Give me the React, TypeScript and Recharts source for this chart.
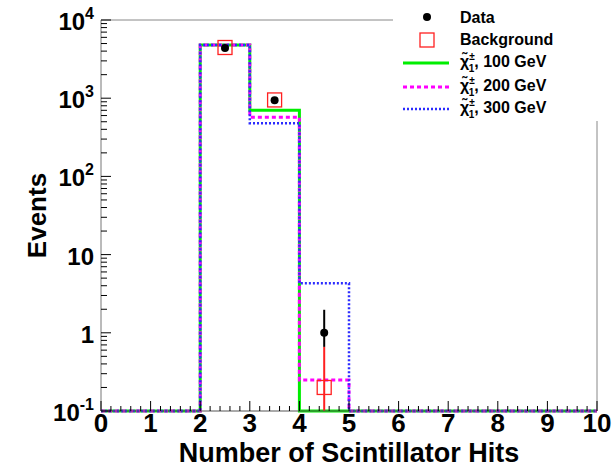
import {
  ComposedChart, Line, Scatter, ErrorBar, XAxis, YAxis, ReferenceLine, Legend, Label,
} from "recharts";

// bin edges of the histogram (Number of Scintillator Hits)
const binEdges = [0, 1, 2, 3, 4, 5, 6, 7, 8, 9, 10];
// signal expectation per bin (empty bins sit on the 0.1 floor)
const sig100 = [0.1, 0.1, 4780, 700, 0.1, 0.1, 0.1, 0.1, 0.1, 0.1];
const sig200 = [0.1, 0.1, 4780, 570, 0.25, 0.1, 0.1, 0.1, 0.1, 0.1];
const sig300 = [0.1, 0.1, 4780, 480, 4.3, 0.1, 0.1, 0.1, 0.1, 0.1];

// observed data and background estimate at bin centres
const pointX = [2.5, 3.5, 4.5];
const dataY = [4400, 940, 1];
const dataErrLo = [66, 31, 0.34];
const dataErrHi = [66, 31, 0.97];
const bkgY = [4450, 950, 0.2];
const bkgErrLo = [40, 20, 0.1];
const bkgErrHi = [40, 20, 0.46];

const xMajorTicks = [0, 1, 2, 3, 4, 5, 6, 7, 8, 9, 10];
const yMajorTicks = [0.1, 1, 10, 100, 1000, 10000];
const yTickLabels = [["10", "-1"], ["1", ""], ["10", ""], ["10", "2"], ["10", "3"], ["10", "4"]];

const legendNames = ["Data", "Background", "100 GeV", "200 GeV", "300 GeV"];

const FONT = "'Liberation Sans', Arial, Helvetica, sans-serif";
const GREEN = "#00ee00";
const MAGENTA = "#ff00ff";
const BLUE = "#2b2bff";
const RED = "#ff2020";

const stepRows = binEdges.map((x, i) => {
  const b = Math.min(i, sig100.length - 1);
  return { x, s100: sig100[b], s200: sig200[b], s300: sig300[b] };
});
const dataPts = pointX.map((x, i) => ({ x, y: dataY[i], err: [dataErrLo[i], dataErrHi[i]] }));
const bkgPts = pointX.map((x, i) => ({ x, y: bkgY[i], err: [bkgErrLo[i], bkgErrHi[i]] }));

const xTicks: number[] = [];
xMajorTicks.forEach((t, i) => {
  xTicks.push(t);
  if (i < xMajorTicks.length - 1) [1, 2, 3, 4].forEach((k) => xTicks.push(Math.round((t + k * 0.2) * 10) / 10));
});
const yTicks: number[] = [];
yMajorTicks.forEach((t, i) => {
  yTicks.push(t);
  if (i < yMajorTicks.length - 1) [2, 3, 4, 5, 6, 7, 8, 9].forEach((m) => yTicks.push(t * m));
});

const XTick = ({ x, y, payload }: any) => {
  const v = payload.value;
  const major = xMajorTicks.includes(v);
  return (
    <g>
      <line x1={x} x2={x} y1={y} y2={y - (major ? 10 : 5)} stroke="#000" />
      {major && (
        <text x={x} y={y + 21} textAnchor="middle" fontSize={26} fontWeight="bold" fontFamily={FONT} fill="#000">
          {v}
        </text>
      )}
    </g>
  );
};

const YTick = ({ x, y, payload }: any) => {
  const v = payload.value;
  const idx = yMajorTicks.findIndex((t) => Math.abs(t - v) / t < 1e-6);
  const major = idx >= 0;
  const lab = major ? yTickLabels[idx] : null;
  return (
    <g>
      <line x1={x} x2={x + (major ? 10 : 6)} y1={y} y2={y} stroke="#000" />
      {lab && (
        <text x={x - 7} y={y + 10} textAnchor="end" fontSize={24} fontWeight="bold" fontFamily={FONT} fill="#000">
          {lab[0]}
          {lab[1] && <tspan dy={-11} fontSize={16}>{lab[1]}</tspan>}
        </text>
      )}
    </g>
  );
};

const DataDot = ({ cx, cy }: any) => <circle cx={cx} cy={cy} r={4} fill="#000" />;
const BkgSquare = ({ cx, cy }: any) => (
  <rect x={cx - 7} y={cy - 7} width={14} height={14} fill="none" stroke={RED} strokeWidth={1.3} />
);

const Chi = ({ x, y, mass }: { x: number; y: number; mass: string }) => (
  <text x={x} y={y} fontSize={16} fontWeight="bold" fontFamily={FONT} fill="#000">
    {"\u03C7\u0303"}
    <tspan dy={-7} fontSize={10}>±</tspan>
    <tspan dx={-6} dy={12} fontSize={10}>1</tspan>
    <tspan dy={-5}>, {mass}</tspan>
  </text>
);

const renderLegend = () => (
  <svg width={220} height={121} style={{ display: "block" }}>
    <rect x={0} y={0} width={220} height={121} fill="#fff" />
    <circle cx={34} cy={17} r={4} fill="#000" />
    <text x={67} y={23} fontSize={16} fontWeight="bold" fontFamily={FONT}>{legendNames[0]}</text>
    <rect x={27} y={33} width={14} height={14} fill="none" stroke={RED} strokeWidth={1.3} />
    <text x={67} y={45} fontSize={16} fontWeight="bold" fontFamily={FONT}>{legendNames[1]}</text>
    <line x1={10} x2={56} y1={63} y2={63} stroke={GREEN} strokeWidth={3} />
    <Chi x={67} y={67} mass={legendNames[2]} />
    <line x1={10} x2={56} y1={87} y2={87} stroke={MAGENTA} strokeWidth={3} strokeDasharray="4 3" />
    <Chi x={67} y={91} mass={legendNames[3]} />
    <line x1={10} x2={56} y1={109} y2={109} stroke={BLUE} strokeWidth={2.5} strokeDasharray="2 2" />
    <Chi x={67} y={113} mass={legendNames[4]} />
  </svg>
);

const XTitle = ({ viewBox }: any) => (
  <text x={viewBox.x + viewBox.width / 2} y={viewBox.y + viewBox.height - 7} textAnchor="middle"
    fontSize={27} fontWeight="bold" fontFamily={FONT} fill="#000">
    Number of Scintillator Hits
  </text>
);
const YTitle = ({ viewBox }: any) => {
  const cx = viewBox.x + 46;
  const cy = viewBox.y + viewBox.height / 2;
  return (
    <text x={cx} y={cy} transform={`rotate(-90 ${cx} ${cy})`} textAnchor="middle"
      fontSize={26} fontWeight="bold" fontFamily={FONT} fill="#000">
      Events
    </text>
  );
};

export default function App() {
  return (
    <div style={{ position: "absolute", left: 0, top: 0, background: "#fff" }}>
      <ComposedChart width={613} height={469} data={stepRows} margin={{ top: 20, right: 16, bottom: 0, left: 0 }}>
        <XAxis type="number" dataKey="x" domain={[0, 10]} ticks={xTicks} interval={0} height={58}
          tick={<XTick />} tickLine={false} tickSize={0} tickMargin={0} axisLine={{ stroke: "#555" }}>
          <Label content={<XTitle />} />
        </XAxis>
        <YAxis scale="log" domain={[0.1, 10000]} ticks={yTicks} interval={0} width={101}
          tick={<YTick />} tickLine={false} tickSize={0} tickMargin={0} axisLine={{ stroke: "#777" }}>
          <Label content={<YTitle />} />
        </YAxis>
        <ReferenceLine y={10000} stroke="#888" />
        <ReferenceLine x={10} stroke="#888" />
        <Line type="stepAfter" dataKey="s100" stroke={GREEN} strokeWidth={3} dot={false} isAnimationActive={false} />
        <Line type="stepAfter" dataKey="s200" stroke={MAGENTA} strokeWidth={3} strokeDasharray="4 3" dot={false} isAnimationActive={false} />
        <Line type="stepAfter" dataKey="s300" stroke={BLUE} strokeWidth={2.5} strokeDasharray="2 2" dot={false} isAnimationActive={false} />
        <Scatter data={dataPts} dataKey="y" shape={<DataDot />} isAnimationActive={false}>
          <ErrorBar dataKey="err" direction="y" width={0} stroke="#000" strokeWidth={2} />
        </Scatter>
        <Scatter data={bkgPts} dataKey="y" shape={<BkgSquare />} isAnimationActive={false}>
          <ErrorBar dataKey="err" direction="y" width={0} stroke={RED} strokeWidth={2} />
        </Scatter>
        <Legend layout="vertical" align="center" verticalAlign="middle" content={renderLegend}
          wrapperStyle={{ position: "absolute", left: 393, top: 0, width: 220, height: 121 }} />
      </ComposedChart>
    </div>
  );
}
